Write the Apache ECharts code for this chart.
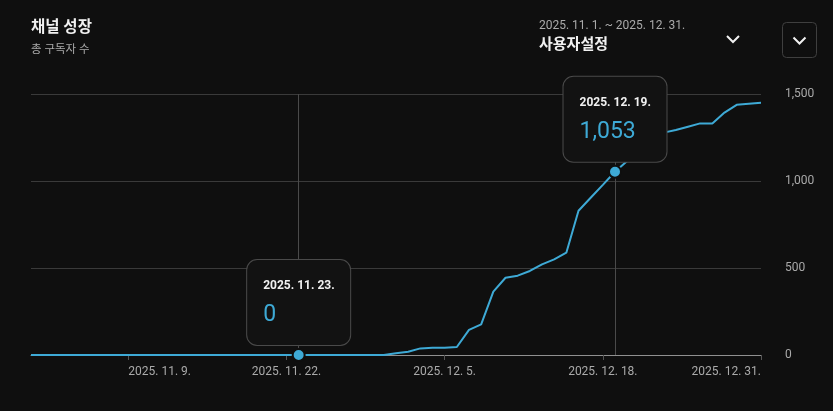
<!DOCTYPE html>
<html>
<head>
<meta charset="utf-8">
<script src="https://cdn.jsdelivr.net/npm/echarts@6/dist/echarts.min.js"></script>
<style>
  html, body { margin: 0; padding: 0; background: #0f0f0f; }
  #chart { width: 833px; height: 411px; }
</style>
</head>
<body>
<div id="chart"></div>
<script>
  // 날짜 카테고리 (2025. 11. 1. ~ 2025. 12. 31.)
  const months = [[11, 30], [12, 31]];
  const dates = [];
  months.forEach(([m, days]) => {
    for (let d = 1; d <= days; d++) dates.push('2025. ' + m + '. ' + d + '.');
  });

  // 총 구독자 수
  const subscribers = [
    0, 0, 0, 0, 0, 0, 0, 0, 0, 0,
    0, 0, 0, 0, 0, 0, 0, 0, 0, 0,
    0, 0, 0, 0, 0, 0, 0, 0, 0, 0,
    10, 19, 38, 42, 42, 46, 144, 176, 364, 444,
    456, 483, 521, 550, 588, 829, 904, 978, 1053, 1115,
    1170, 1225, 1278, 1293, 1312, 1331, 1331, 1393, 1438, 1444,
    1450
  ];

  const yTicks = [0, 500, 1000, 1500];
  const highlighted = ['2025. 11. 23.', '2025. 12. 19.'];

  const lineColor = '#3eaad6';
  const font = 'Roboto, "Noto Sans CJK KR", sans-serif';

  const chart = echarts.init(document.getElementById('chart'));
  chart.setOption({
    backgroundColor: '#0f0f0f',
    animation: false,
    title: [{
      text: '채널 성장',
      subtext: '총 구독자 수',
      left: 31, top: 20, padding: 0, itemGap: 9,
      textStyle: { color: '#f1f1f1', fontSize: 15.5, fontWeight: 'bold', fontFamily: font },
      subtextStyle: { color: '#aaaaaa', fontSize: 11.5, fontFamily: font }
    }, {
      text: '2025. 11. 1. ~ 2025. 12. 31.',
      subtext: '사용자설정',
      left: 539, top: 20, padding: 0, itemGap: 5.5,
      textStyle: { color: '#aaaaaa', fontSize: 12, fontWeight: 'normal', fontFamily: font },
      subtextStyle: { color: '#f1f1f1', fontSize: 15, fontWeight: 'bold', fontFamily: font }
    }],
    graphic: [
      { type: 'polyline', shape: { points: [[727, 36], [733, 42], [739, 36]] },
        style: { stroke: '#f1f1f1', lineWidth: 2, fill: null } },
      { type: 'rect', shape: { x: 782.5, y: 22.5, width: 34, height: 35, r: 4 },
        style: { stroke: '#3f3f3f', lineWidth: 1, fill: null } },
      { type: 'polyline', shape: { points: [[793.5, 37.5], [799.5, 43.5], [805.5, 37.5]] },
        style: { stroke: '#f1f1f1', lineWidth: 2, fill: null } }
    ],
    grid: { left: 31, right: 72, top: 94, bottom: 56 },
    xAxis: {
      type: 'category',
      data: dates,
      boundaryGap: false,
      axisLine: { lineStyle: { color: '#909090', width: 1 } },
      axisTick: {
        length: 5,
        interval: idx => idx % 13 === 8,
        lineStyle: { color: '#555555' }
      },
      axisLabel: {
        interval: idx => idx % 13 === 8,
        color: '#aaaaaa', fontSize: 12, fontFamily: font, margin: 11,
        alignMinLabel: 'left', alignMaxLabel: 'right'
      },
      splitLine: { show: false }
    },
    yAxis: {
      type: 'value',
      position: 'right',
      min: yTicks[0], max: yTicks[yTicks.length - 1], interval: 500,
      axisLine: { show: false },
      axisTick: { show: false },
      axisLabel: {
        color: '#aaaaaa', fontSize: 12, fontFamily: font, margin: 24,
        formatter: v => v.toLocaleString('en-US')
      },
      splitLine: { lineStyle: { color: '#3a3a3a', width: 1 } }
    },
    series: [{
      type: 'line',
      data: subscribers,
      showSymbol: false,
      lineStyle: { color: lineColor, width: 2 },
      itemStyle: { color: lineColor },
      markLine: {
        z: 1,
        silent: true,
        symbol: 'none',
        label: { show: false },
        lineStyle: { color: '#4a4a4a', width: 1, type: 'solid' },
        data: highlighted.map(d => ({ xAxis: d }))
      },
      markPoint: {
        z: 10,
        symbol: 'circle',
        symbolSize: 12,
        itemStyle: { color: lineColor, borderColor: '#0f0f0f', borderWidth: 2 },
        label: {
          show: true,
          position: 'top',
          distance: 3,
          formatter: p => '{d|' + p.name + '}\n{v|' + Number(p.value).toLocaleString('en-US') + '}',
          backgroundColor: '#121212',
          borderColor: '#4a4a4a',
          borderWidth: 1,
          borderRadius: 10,
          padding: [16, 16, 11, 16],
          width: 71,
          rich: {
            d: { color: '#f1f1f1', fontSize: 12, fontWeight: 'bold', fontFamily: font, lineHeight: 20, align: 'left' },
            v: { color: lineColor, fontSize: 23, fontFamily: font, lineHeight: 38, align: 'left' }
          }
        },
        data: highlighted.map(d => {
          const i = dates.indexOf(d);
          return { name: d, value: subscribers[i], coord: [d, subscribers[i]] };
        })
      }
    }]
  });
</script>
</body>
</html>
